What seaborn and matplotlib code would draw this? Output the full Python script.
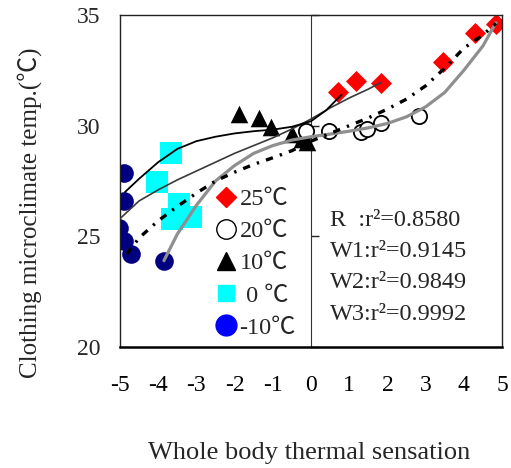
import matplotlib
matplotlib.use("Agg")
import matplotlib.pyplot as plt
import seaborn as sns
import pandas as pd
from matplotlib.lines import Line2D
from matplotlib.font_manager import FontProperties

# ---------------- data ----------------
x_25 = [0.71, 1.18, 1.83, 3.46, 4.29, 4.84]
y_25 = [31.5, 32.04, 31.95, 32.86, 34.17, 34.6]
x_20 = [-0.13, 0.47, 1.31, 1.47, 1.83, 2.83]
y_20 = [29.75, 29.77, 29.73, 29.86, 30.14, 30.45]
x_10 = [-1.88, -1.36, -1.05, -0.5, -0.24, -0.1]
y_10 = [30.54, 30.36, 29.95, 29.64, 29.41, 29.25]
x_0 = [-3.66, -4.03, -3.46, -3.64, -3.14]
y_0 = [28.78, 27.46, 26.46, 25.78, 25.87]
x_m10 = [-4.9, -4.9, -5.03, -4.9, -4.71, -3.85]
y_m10 = [27.87, 26.6, 25.38, 24.79, 24.2, 23.88]

# fitted curves
line_solid_x = [-4.87, -4.5, -4.0, -3.5, -3.0, -2.5, -2.0, -1.5, -1.0, -0.5, 0.0, 0.4, 0.8]
line_solid_y = [27.0, 27.6, 28.35, 28.95, 29.3, 29.5, 29.65, 29.75, 29.82, 29.95, 30.2, 30.7, 31.4]
line_tex_x = [-5.0, -4.5, -4.0, -3.5, -3.0, -2.5, -2.0, -1.5, -1.0, -0.5, 0.0, 0.5, 1.0, 1.5, 1.83]
line_tex_y = [25.8, 26.6, 27.1, 27.55, 27.95, 28.35, 28.75, 29.1, 29.45, 29.85, 30.3, 30.8, 31.25, 31.65, 31.95]
line_dash_x = [-4.82, -4.5, -4.0, -3.5, -3.0, -2.5, -2.0, -1.5, -1.0, -0.5, 0.0, 0.5, 1.0, 1.5, 2.0, 2.5, 3.0, 3.5, 4.0, 4.5, 4.84]
line_dash_y = [24.2, 24.93, 25.7, 26.35, 26.95, 27.5, 27.9, 28.25, 28.55, 28.87, 29.3, 29.65, 30.0, 30.35, 30.75, 31.2, 31.8, 32.6, 33.5, 34.1, 34.62]
line_gray_x = [-3.85, -3.5, -3.0, -2.5, -2.0, -1.5, -1.0, -0.5, 0.0, 0.5, 1.0, 1.5, 2.0, 2.5, 3.0, 3.5, 4.0, 4.5, 4.84]
line_gray_y = [23.9, 25.1, 26.4, 27.5, 28.2, 28.75, 29.1, 29.35, 29.5, 29.62, 29.75, 29.9, 30.1, 30.4, 30.85, 31.5, 32.5, 33.6, 34.65]

legend_labels = ["25\u2103", "20\u2103", "10\u2103", " 0 \u2103", "-10\u2103"]
r2_lines = ["R  :r\u00b2=0.8580", "W1:r\u00b2=0.9145", "W2:r\u00b2=0.9849", "W3:r\u00b2=0.9992"]
x_ticks = [-5, -4, -3, -2, -1, 0, 1, 2, 3, 4, 5]
y_ticks = [20, 25, 30, 35]

# ---------------- style ----------------
sns.set_style("white")
FAM = ["Liberation Serif", "Noto Sans CJK JP"]
plt.rcParams["font.family"] = FAM

W, H = 511, 468
fig = plt.figure(figsize=(W / 100, H / 100), dpi=100)
ax = fig.add_axes([120 / W, 1 - 347 / H, (502 - 120) / W, (347 - 15) / H])

# scatter groups
sns.scatterplot(x=x_m10, y=y_m10, ax=ax, marker="o", s=180, color="#000080", linewidth=0, zorder=2)
sns.scatterplot(x=x_0, y=y_0, ax=ax, marker="s", s=230, color="#00FFFF", linewidth=0, zorder=2)
sns.scatterplot(x=x_10, y=y_10, ax=ax, marker="^", s=160, color="black", linewidth=0, zorder=2)
sns.scatterplot(x=x_20, y=y_20, ax=ax, marker="o", s=120, facecolor="white", edgecolor="black", linewidth=1.3, zorder=2)
sns.scatterplot(x=x_25, y=y_25, ax=ax, marker="D", s=115, color="#FF0000", linewidth=0, zorder=2)

# curves
sns.lineplot(x=line_gray_x, y=line_gray_y, ax=ax, sort=False, estimator=None, color="#8f8f8f", linewidth=2.3, zorder=3)
sns.lineplot(x=line_tex_x, y=line_tex_y, ax=ax, sort=False, estimator=None, color="#3a3a3a", linewidth=1.2, zorder=3)
sns.lineplot(x=line_solid_x, y=line_solid_y, ax=ax, sort=False, estimator=None, color="black", linewidth=1.3, zorder=3)
sns.lineplot(x=line_dash_x, y=line_dash_y, ax=ax, sort=False, estimator=None, color="black", linewidth=2.4,
             linestyle=(0, (2.2, 2.2, 0.7, 2.2)), zorder=3)

ax.set_xlim(-5, 5)
ax.set_ylim(20, 35)
ax.set_xticks(x_ticks)
ax.set_xticklabels([str(v) for v in x_ticks])
ax.set_yticks(y_ticks)
ax.set_yticklabels([str(v) for v in y_ticks])
ax.tick_params(axis="x", direction="in", length=5, width=1, pad=20, labelsize=17, colors="black")
ax.tick_params(axis="y", length=0, pad=14, labelsize=17)
for side in ["top", "right", "left"]:
    ax.spines[side].set_color("#222222")
    ax.spines[side].set_linewidth(1.0)
ax.spines["bottom"].set_color("black")
ax.spines["bottom"].set_linewidth(1.8)

# central y axis with ticks
sec = ax.secondary_yaxis(0.5)
sec.set_yticks(y_ticks)
sec.tick_params(axis="y", direction="out", length=6, width=1, labelleft=False, labelright=False)
sec.spines["right"].set_color("#333333")
sec.spines["left"].set_color("#333333")

ax.set_xlabel("")
ax.set_ylabel("")

fig.text(30 / W, 1 - 213 / H, "Clothing microclimate temp.(\u2103)", rotation=90,
         ha="center", va="center", fontsize=18)
fig.text(309 / W, 1 - 453 / H, "Whole body thermal sensation", ha="center", va="center", fontsize=19)

# legend
handles = [
    Line2D([], [], marker="D", linestyle="", color="#FF0000", markersize=10),
    Line2D([], [], marker="o", linestyle="", markerfacecolor="white", markeredgecolor="black", markeredgewidth=1.0, markersize=14),
    Line2D([], [], marker="^", linestyle="", color="black", markersize=13),
    Line2D([], [], marker="s", linestyle="", color="#00FFFF", markersize=12),
    Line2D([], [], marker="o", linestyle="", color="#0000FF", markersize=15),
]
leg = ax.legend(handles, legend_labels, loc="upper left", bbox_to_anchor=(214 / W, 1 - 188 / H),
                bbox_transform=fig.transFigure, frameon=False, handlelength=1.0, handletextpad=0.05,
                labelspacing=0.42, borderpad=0, borderaxespad=0,
                prop=FontProperties(family=FAM, size=17.5))

# r^2 text
for i, t in enumerate(r2_lines):
    fig.text(330 / W, 1 - (220 + 31.5 * i) / H, t, ha="left", va="center", fontsize=17.5)

fig.savefig("out.png", dpi=100)
